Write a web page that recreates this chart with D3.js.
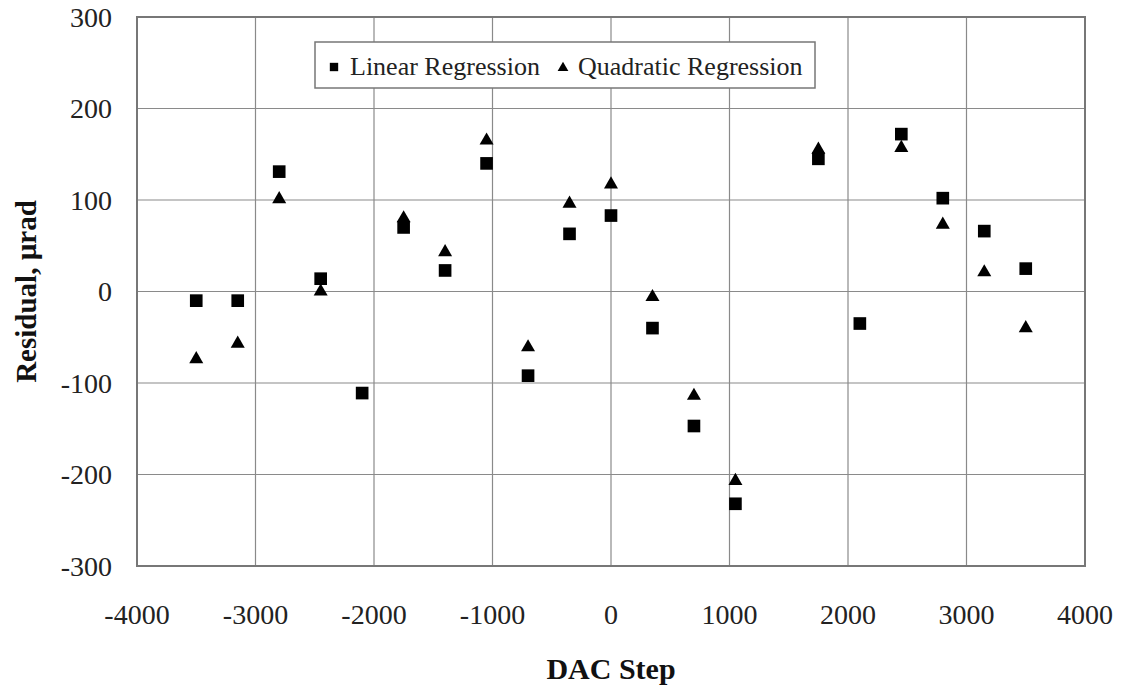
<!DOCTYPE html>
<html>
<head>
<meta charset="utf-8">
<script src="https://cdn.jsdelivr.net/npm/d3@7"></script>
<style>
  body { margin: 0; background: #fff; }
  text { font-family: "Liberation Serif", "Times New Roman", serif; fill: #222; }
  .tick-label { font-size: 28px; }
  .axis-label { font-size: 30px; font-weight: bold; fill: #111; }
  .legend-label { font-size: 26px; }
</style>
</head>
<body>
<div id="chart"></div>
<script>
// DAC step positions (null = no visible marker)
const dacSteps = [-3500, -3150, -2800, -2450, -2100, -1750, -1400, -1050, -700, -350, 0,
                  350, 700, 1050, 1750, 2100, 2450, 2800, 3150, 3500];
const linearResidual = [-10, -10, 131, 14, -111, 70, 23, 140, -92, 63, 83,
                        -40, -147, -232, 145, -35, 172, 102, 66, 25];
const quadraticResidual = [-74, -57, 101, 0, null, 80, 43, 165, -61, 96, 117,
                           -6, -114, -207, 155, null, 157, 73, 21, -40];
const xTicks = [-4000, -3000, -2000, -1000, 0, 1000, 2000, 3000, 4000];
const yTicks = [-300, -200, -100, 0, 100, 200, 300];
const seriesNames = ["Linear Regression", "Quadratic Regression"];

let margin = {top: 17, right: 40, bottom: 124, left: 137},
    width = 1125 - margin.left - margin.right,
    height = 690 - margin.top - margin.bottom;

let x = d3.scaleLinear().domain([-4000, 4000]).range([0, width]);
let y = d3.scaleLinear().domain([-300, 300]).range([height, 0]);

let svg = d3.select("#chart").append("svg")
    .attr("width", 1125)
    .attr("height", 690)
    .append("g")
    .attr("transform", "translate(" + margin.left + "," + margin.top + ")");

// grid
svg.selectAll(".vgrid")
    .data(xTicks)
    .enter().append("line")
    .attr("x1", function(d) { return x(d); })
    .attr("x2", function(d) { return x(d); })
    .attr("y1", 0)
    .attr("y2", height)
    .style("stroke", "#8a8a8a")
    .style("stroke-width", 1.2);

svg.selectAll(".hgrid")
    .data(yTicks)
    .enter().append("line")
    .attr("x1", 0)
    .attr("x2", width)
    .attr("y1", function(d) { return y(d); })
    .attr("y2", function(d) { return y(d); })
    .style("stroke", "#8a8a8a")
    .style("stroke-width", 1.2);

// frame
svg.append("rect")
    .attr("width", width)
    .attr("height", height)
    .style("fill", "none")
    .style("stroke", "#777")
    .style("stroke-width", 2);

// tick labels
svg.selectAll(".xtick")
    .data(xTicks)
    .enter().append("text")
    .attr("class", "tick-label")
    .attr("x", function(d) { return x(d); })
    .attr("y", height + 58)
    .style("text-anchor", "middle")
    .text(function(d) { return d; });

svg.selectAll(".ytick")
    .data(yTicks)
    .enter().append("text")
    .attr("class", "tick-label")
    .attr("x", -25)
    .attr("y", function(d) { return y(d); })
    .attr("dy", "0.35em")
    .style("text-anchor", "end")
    .text(function(d) { return d; });

svg.append("text")
    .attr("class", "axis-label")
    .attr("x", width / 2)
    .attr("y", height + 113)
    .style("text-anchor", "middle")
    .text("DAC Step");

svg.append("text")
    .attr("class", "axis-label")
    .attr("transform", "rotate(-90)")
    .attr("x", -height / 2)
    .attr("y", -101)
    .style("font-size", "29px")
    .style("text-anchor", "middle")
    .text("Residual, µrad");

// markers
let square = d3.symbol().type(d3.symbolSquare).size(160);
let triangle = d3.symbol().type(d3.symbolTriangle).size(85);

let quadPts = dacSteps.map(function(d, i) { return {x: d, y: quadraticResidual[i]}; })
    .filter(function(d) { return d.y !== null; });
let linPts = dacSteps.map(function(d, i) { return {x: d, y: linearResidual[i]}; })
    .filter(function(d) { return d.y !== null; });

svg.selectAll(".tri")
    .data(quadPts)
    .enter().append("path")
    .attr("d", triangle)
    .attr("transform", function(d) { return "translate(" + x(d.x) + "," + y(d.y) + ")"; })
    .style("fill", "#000");

svg.selectAll(".sq")
    .data(linPts)
    .enter().append("path")
    .attr("d", square)
    .attr("transform", function(d) { return "translate(" + x(d.x) + "," + y(d.y) + ")"; })
    .style("fill", "#000");

// legend
let legend = svg.append("g")
    .attr("transform", "translate(" + (315 - margin.left) + "," + (42 - margin.top) + ")");

legend.append("rect")
    .attr("width", 500)
    .attr("height", 46)
    .style("fill", "#fff")
    .style("stroke", "#777")
    .style("stroke-width", 1.5);

legend.append("path")
    .attr("d", d3.symbol().type(d3.symbolSquare).size(70))
    .attr("transform", "translate(19,25)")
    .style("fill", "#000");

legend.append("text")
    .attr("class", "legend-label")
    .attr("x", 35)
    .attr("y", 33)
    .text(seriesNames[0]);

legend.append("path")
    .attr("d", d3.symbol().type(d3.symbolTriangle).size(50))
    .attr("transform", "translate(248,26)")
    .style("fill", "#000");

legend.append("text")
    .attr("class", "legend-label")
    .attr("x", 263)
    .attr("y", 33)
    .text(seriesNames[1]);
</script>
</body>
</html>
